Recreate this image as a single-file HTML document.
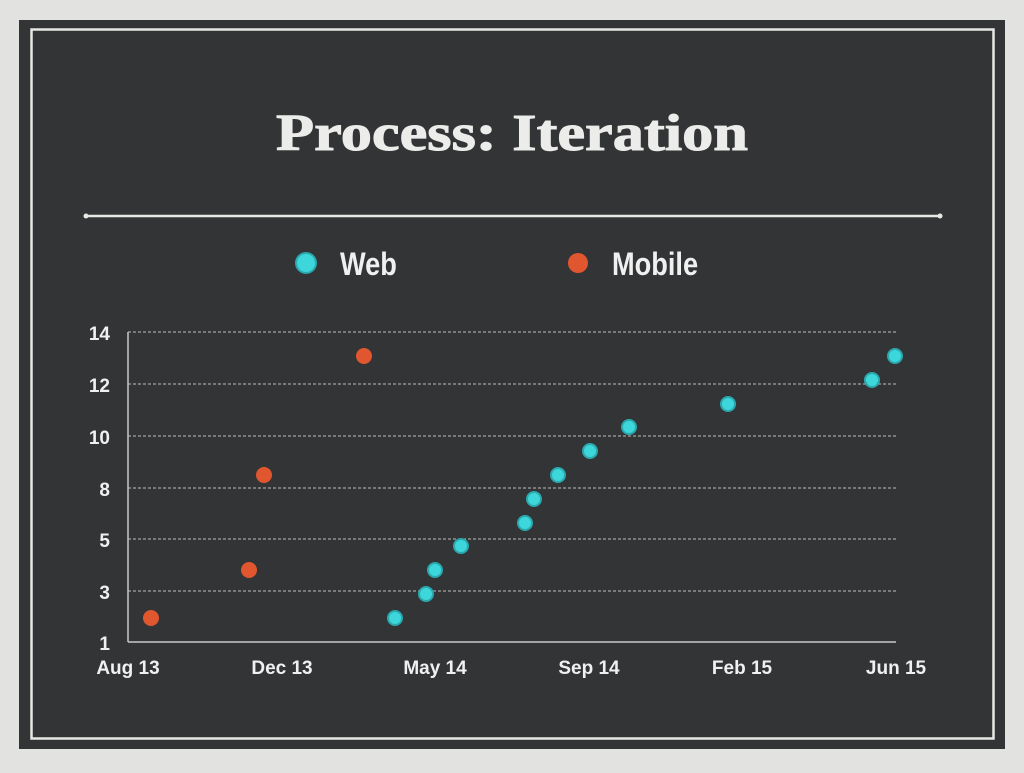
<!DOCTYPE html>
<html><head><style>
body{margin:0;width:1024px;height:768px;background:#e2e2e0;overflow:hidden;font-family:"Liberation Sans",sans-serif}
</style></head><body>
<svg width="1024" height="768" xmlns="http://www.w3.org/2000/svg">
<rect x="0" y="0" width="1024" height="768" fill="#e2e2e0"/>
<rect x="19" y="20" width="986" height="729" fill="#323436"/>
<rect x="31.5" y="29.5" width="962" height="709" fill="none" stroke="#e8e8e4" stroke-width="2.5"/>
<text x="276" y="150" font-family="Liberation Serif,serif" font-weight="bold" font-size="52" fill="#ececea" textLength="472" lengthAdjust="spacingAndGlyphs" stroke="#ececea" stroke-width="1">Process: Iteration</text>
<line x1="86" y1="216" x2="940" y2="216" stroke="#e8e8e4" stroke-width="2.5"/>
<circle cx="86" cy="216" r="2.5" fill="#e8e8e4"/><circle cx="940" cy="216" r="2.5" fill="#e8e8e4"/>
<circle cx="306" cy="263" r="10" fill="#3dd6db" stroke="#2aa9ae" stroke-width="2"/>
<text x="340" y="275" font-weight="bold" font-size="32" fill="#f0f0f0" transform="translate(340 0) scale(0.85 1) translate(-340 0)">Web</text>
<circle cx="578" cy="263" r="10" fill="#e0562f"/>
<text x="612" y="275" font-weight="bold" font-size="32" fill="#f0f0f0" transform="translate(612 0) scale(0.85 1) translate(-612 0)">Mobile</text>
<g stroke="#bfbfbf" stroke-width="1" stroke-dasharray="3,2">
<line x1="128" y1="332" x2="896" y2="332"/><line x1="128" y1="384" x2="896" y2="384"/>
<line x1="128" y1="436" x2="896" y2="436"/><line x1="128" y1="488" x2="896" y2="488"/>
<line x1="128" y1="539" x2="896" y2="539"/><line x1="128" y1="591" x2="896" y2="591"/>
</g>
<line x1="128" y1="332" x2="128" y2="642" stroke="#c8c8c8" stroke-width="1.5"/>
<line x1="128" y1="642" x2="896" y2="642" stroke="#c8c8c8" stroke-width="1.5"/>
<g font-weight="bold" font-size="19" fill="#f0f0f0" text-anchor="end">
<text x="110" y="340">14</text><text x="110" y="392">12</text><text x="110" y="444">10</text>
<text x="110" y="496">8</text><text x="110" y="547">5</text><text x="110" y="599">3</text><text x="110" y="650">1</text>
</g>
<g font-weight="bold" font-size="19" fill="#f0f0f0" text-anchor="middle">
<text x="128" y="674">Aug 13</text><text x="282" y="674">Dec 13</text><text x="435" y="674">May 14</text>
<text x="589" y="674">Sep 14</text><text x="742" y="674">Feb 15</text><text x="896" y="674">Jun 15</text>
</g>
<g fill="#e0562f">
<circle cx="151" cy="618" r="8"/><circle cx="249" cy="570" r="8"/><circle cx="264" cy="475" r="8"/><circle cx="364" cy="356" r="8"/>
</g>
<g fill="#3dd6db" stroke="#2aa9ae" stroke-width="2">
<circle cx="395" cy="618" r="7"/><circle cx="426" cy="594" r="7"/><circle cx="435" cy="570" r="7"/><circle cx="461" cy="546" r="7"/>
<circle cx="525" cy="523" r="7"/><circle cx="534" cy="499" r="7"/><circle cx="558" cy="475" r="7"/><circle cx="590" cy="451" r="7"/>
<circle cx="629" cy="427" r="7"/><circle cx="728" cy="404" r="7"/><circle cx="872" cy="380" r="7"/><circle cx="895" cy="356" r="7"/>
</g>
</svg>
</body></html>
